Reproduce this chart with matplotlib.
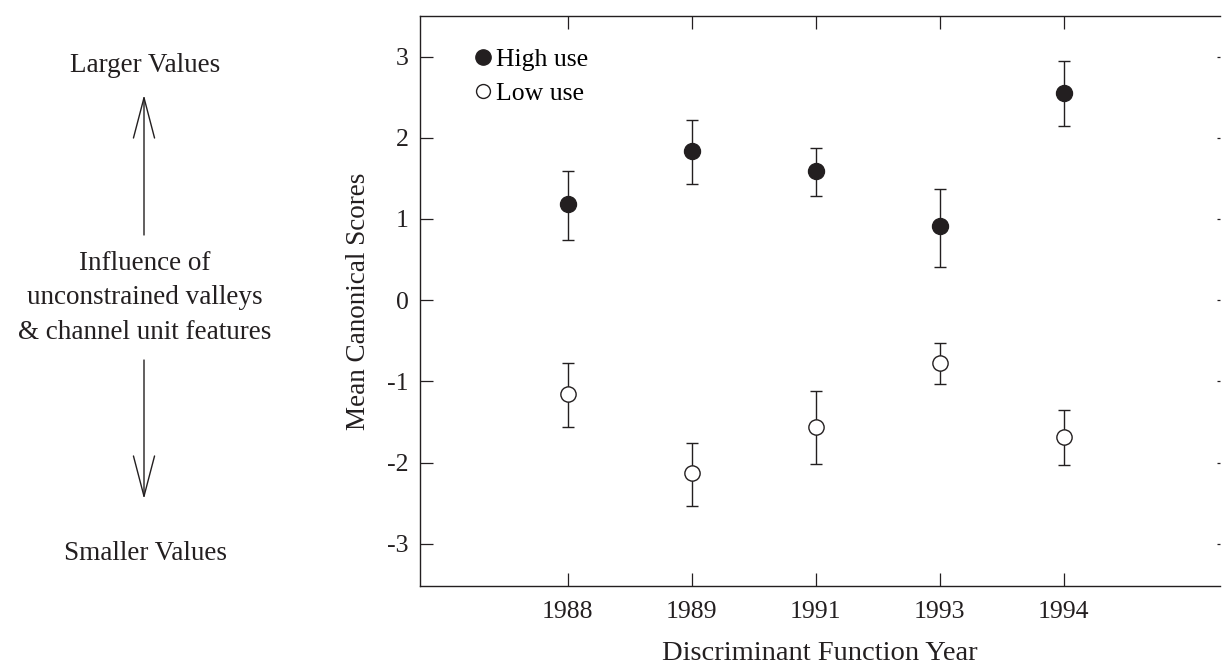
import matplotlib.pyplot as plt
from matplotlib.patches import FancyArrowPatch
from matplotlib.lines import Line2D

plt.rcParams['font.family'] = ['Liberation Serif', 'DejaVu Serif']
plt.rcParams['axes.unicode_minus'] = False

# data
years = ['1988', '1989', '1991', '1993', '1994']
high_mean = [1.18, 1.84, 1.59, 0.91, 2.55]
high_lo = [0.74, 1.43, 1.28, 0.41, 2.14]
high_hi = [1.59, 2.22, 1.87, 1.37, 2.94]
low_mean = [-1.15, -2.13, -1.56, -0.77, -1.68]
low_lo = [-1.56, -2.53, -2.02, -1.03, -2.03]
low_hi = [-0.77, -1.76, -1.12, -0.53, -1.35]

ink = '#231f20'

fig = plt.figure(figsize=(12.22, 6.67), dpi=100)
ax = fig.add_axes([420 / 1222, 1 - 586 / 667, 800 / 1222, 570 / 667])

x = list(range(len(years)))
high_err = [[m - l for m, l in zip(high_mean, high_lo)],
            [h - m for m, h in zip(high_mean, high_hi)]]
low_err = [[m - l for m, l in zip(low_mean, low_lo)],
           [h - m for m, h in zip(low_mean, low_hi)]]

ax.errorbar(x, high_mean, yerr=high_err, fmt='o', ms=11.5, color=ink,
            mfc=ink, mec=ink, ecolor=ink, elinewidth=1.0, capsize=4.5,
            capthick=1.0)
ax.errorbar(x, low_mean, yerr=low_err, fmt='o', ms=11, color=ink,
            mfc='white', mec=ink, mew=1.0, ecolor=ink, elinewidth=1.0,
            capsize=4.5, capthick=1.0)

ax.set_xlim(-1.19, 5.26)
ax.set_ylim(-3.52, 3.5)
ax.set_xticks(x)
ax.set_xticklabels(years)
ax.set_yticks(range(-3, 4))

ax.spines['right'].set_visible(False)
for s in ['left', 'top', 'bottom']:
    ax.spines[s].set_linewidth(1.0)
    ax.spines[s].set_color(ink)

ax.tick_params(direction='in', length=9.5, width=0.9, color=ink,
               labelsize=18.5, top=True, labelcolor=ink)
ax.tick_params(axis='x', pad=11)
ax.tick_params(axis='y', pad=8)

sec = ax.secondary_yaxis('right')
sec.set_yticks(range(-3, 4))
sec.set_yticklabels([])
sec.tick_params(direction='in', length=2, width=0.9, color=ink)
sec.spines['right'].set_visible(False)

ax.set_ylabel('Mean Canonical Scores', fontsize=19.5, color=ink, labelpad=12)
ax.set_xlabel('Discriminant Function Year', fontsize=20.5, color=ink, labelpad=13)

handles = [Line2D([], [], ls='none', marker='o', ms=11, mfc=ink, mec=ink),
           Line2D([], [], ls='none', marker='o', ms=10, mfc='white', mec=ink, mew=1.0)]
ax.legend(handles, ['High use', 'Low use'], loc='upper left', frameon=False,
          fontsize=18.5, handletextpad=0.1, borderaxespad=0.0,
          labelspacing=0.45, handlelength=0.8, borderpad=0.0,
          bbox_to_anchor=(0.066, 0.944))

# left side annotation
fig.text(145 / 1222, 1 - 66 / 667, 'Larger Values', ha='center', va='center',
         fontsize=19.5, color=ink)
fig.text(145 / 1222, 1 - 298 / 667,
         'Influence of\nunconstrained valleys\n& channel unit features',
         ha='center', va='center', fontsize=19.5, color=ink, linespacing=1.5)
fig.text(145 / 1222, 1 - 554 / 667, 'Smaller Values', ha='center', va='center',
         fontsize=19.5, color=ink)

style = '->,head_length=1.45,head_width=0.38'
fig.patches.append(FancyArrowPatch((144 / 1222, 1 - 235 / 667), (144 / 1222, 1 - 95 / 667),
                                   transform=fig.transFigure, arrowstyle=style,
                                   mutation_scale=20, color=ink, lw=1.0,
                                   shrinkA=0, shrinkB=0))
fig.patches.append(FancyArrowPatch((144 / 1222, 1 - 360 / 667), (144 / 1222, 1 - 499 / 667),
                                   transform=fig.transFigure, arrowstyle=style,
                                   mutation_scale=20, color=ink, lw=1.0,
                                   shrinkA=0, shrinkB=0))

fig.savefig('out.png', dpi=100)
